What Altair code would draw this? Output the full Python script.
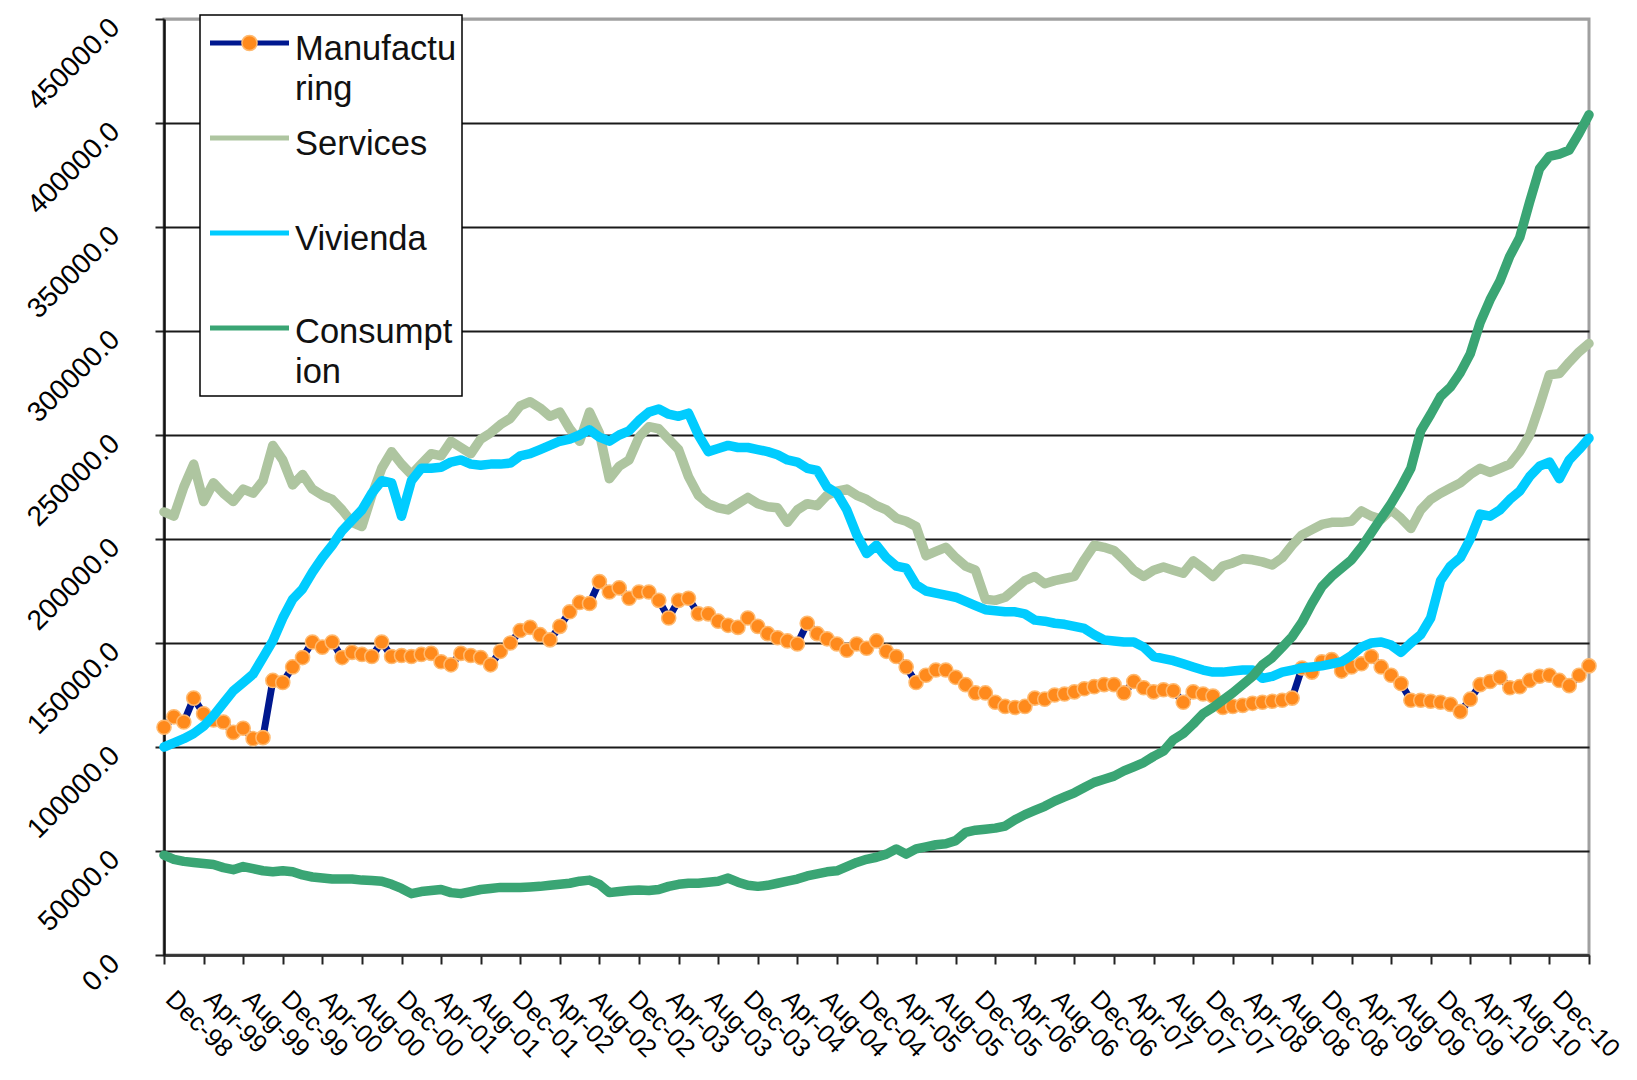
import altair as alt
import pandas as pd

# ---------------- data ----------------
tick_labels = ["Dec-98", "Apr-99", "Aug-99", "Dec-99", "Apr-00", "Aug-00", "Dec-00",
               "Apr-01", "Aug-01", "Dec-01", "Apr-02", "Aug-02", "Dec-02", "Apr-03",
               "Aug-03", "Dec-03", "Apr-04", "Aug-04", "Dec-04", "Apr-05", "Aug-05",
               "Dec-05", "Apr-06", "Aug-06", "Dec-06", "Apr-07", "Aug-07", "Dec-07",
               "Apr-08", "Aug-08", "Dec-08", "Apr-09", "Aug-09", "Dec-09", "Apr-10",
               "Aug-10", "Dec-10"]

series_names = ["Manufacturing", "Services", "Vivienda", "Consumption"]
legend_labels = ["Manufactu\nring", "Services", "Vivienda", "Consumpt\nion"]

# monthly values, Dec-98 ... Dec-10 (rows of 12 months)
manufacturing = [
    109500, 114500, 112000, 123500, 116000, 113000, 112000, 107000, 109000, 104000, 104500, 132000,
    131000, 138500, 143000, 150500, 148000, 150500, 143000, 145500, 144500, 143500, 150500, 143500,
    144000, 143500, 144500, 145000, 141000, 139500, 145000, 144000, 143000, 139500, 146000, 150000,
    156000, 157500, 154000, 151500, 158000, 165000, 169500, 169000, 179500, 174500, 176500, 171500,
    174500, 174500, 170500, 162000, 170500, 171500, 164000, 164000, 160500, 158500, 157500, 162000,
    158000, 154500, 152500, 151000, 149500, 159500, 154500, 152000, 149500, 146500, 149500, 147500,
    151000, 146000, 143500, 138500, 131000, 134500, 137000, 137000, 133500, 130000, 126000, 126000,
    121500, 119500, 119000, 119500, 123500, 123000, 125000, 125500, 126500, 128000, 129000, 130000,
    130000, 126000, 131500, 128500, 126500, 127500, 127000, 121500, 126500, 125500, 124500, 119000,
    119500, 120000, 121000, 121500, 122000, 122500, 123500, 138000, 136000, 141000, 142000, 136500,
    138500, 140000, 143500, 138500, 134500, 130500, 122500, 122500, 122000, 121500, 120500, 117000,
    123000, 130000, 131500, 133500, 128500, 129000, 132000, 134000, 134500, 132000, 129500, 134500,
    139000]

services = [
    213000, 211000, 225000, 236000, 218000, 227000, 222000, 218000, 224000, 222000, 228000, 245000,
    238000, 226000, 231000, 224000, 221000, 219000, 214000, 208000, 206000, 221000, 234000, 242000,
    236000, 231000, 236000, 241000, 240000, 247000, 244000, 241000, 248000, 251000, 255000, 258000,
    264000, 266000, 263000, 259000, 261000, 253000, 247000, 261000, 251000, 229000, 235000, 238000,
    249000, 254000, 253000, 248000, 243000, 230000, 221000, 217000, 215000, 214000, 217000, 220000,
    217000, 215500, 215000, 208000, 214000, 217000, 216000, 221000, 223000, 224000, 221000, 219000,
    216000, 214000, 210000, 208500, 206000, 192000, 194000, 196000, 191000, 187000, 185000, 171000,
    170500, 172000, 176000, 180000, 182000, 178500, 180000, 181000, 182000, 190000, 197000, 196000,
    194500, 190000, 185000, 182000, 185000, 186500, 185000, 183500, 189500, 186000, 182000, 187000,
    188500, 190500, 190000, 189000, 187500, 191000, 197000, 202000, 204500, 207000, 208000, 208000,
    208500, 213500, 211000, 209500, 214000, 210000, 205000, 214000, 219000, 222000, 224500, 227000,
    231000, 234000, 232000, 234000, 236000, 242000, 250000, 264000, 279000, 279500, 285000, 290000,
    294000]

vivienda = [
    100000, 102000, 104000, 106500, 110000, 115000, 121000, 127000, 131000, 135000, 143000, 151000,
    162000, 171000, 176000, 184000, 191000, 197000, 204000, 209000, 214000, 222000, 228000, 227000,
    211000, 228000, 234000, 234000, 234500, 237000, 238000, 236000, 235500, 236000, 236000, 236500,
    240000, 241000, 243000, 245000, 247000, 248000, 250000, 252500, 249000, 247000, 250000, 252000,
    257000, 261000, 262500, 260000, 259000, 260500, 250000, 242000, 243500, 245000, 244000, 244000,
    243000, 242000, 240500, 238000, 237000, 234000, 233000, 225000, 222000, 214000, 202000, 193000,
    197000, 191000, 187000, 186000, 178000, 175000, 174000, 173000, 172000, 170000, 168000, 166000,
    165500, 165000, 165000, 164000, 161000, 160500, 159500, 159000, 158000, 157000, 154000, 151500,
    151000, 150500, 150500, 148000, 143500, 142500, 141500, 140000, 138500, 137000, 136000, 136000,
    136500, 137000, 137000, 133000, 134000, 136000, 137000, 138000, 138500, 139000, 140000, 141000,
    144000, 148000, 150000, 150500, 149000, 145500, 150000, 154000, 162000, 180000, 187000, 191000,
    200000, 212000, 211000, 214000, 219000, 223000, 230000, 235000, 237000, 229000, 238000, 243000,
    248500]

consumption = [
    48000, 46000, 45000, 44500, 44000, 43500, 42000, 41000, 42500, 41500, 40500, 40000,
    40500, 40000, 38500, 37500, 37000, 36500, 36500, 36500, 36000, 35800, 35500, 34000,
    32000, 29500, 30500, 31000, 31500, 30000, 29500, 30500, 31500, 32000, 32500, 32500,
    32500, 32700, 33000, 33500, 34000, 34500, 35500, 36000, 34000, 30000, 30500, 31000,
    31200, 31000, 31500, 33000, 34000, 34500, 34500, 35000, 35500, 37000, 35000, 33500,
    33000, 33500, 34500, 35500, 36500, 38000, 39000, 40000, 40500, 42500, 44500, 46000,
    47000, 48500, 51000, 48500, 51000, 52000, 53000, 53500, 55000, 59000, 60000, 60500,
    61000, 62000, 65000, 67500, 69500, 71500, 74000, 76000, 78000, 80500, 83000, 84500,
    86000, 88500, 90500, 92500, 95500, 98000, 103500, 106500, 111000, 116000, 119000, 122500,
    126000, 130000, 134000, 139500, 143000, 148000, 153000, 160000, 169000, 177000, 182000, 186000,
    190000, 196000, 203000, 210000, 217000, 225000, 234000, 252000, 260000, 268500, 273000, 280000,
    289000, 304000, 315000, 324000, 336000, 345000, 362000, 378000, 384000, 385000, 387000, 395000,
    404000]

for s in (manufacturing, services, vivienda, consumption):
    if len(s) != 145:
        raise ValueError("series length %d" % len(s))

# ---------------- styling ----------------
FONT = "Liberation Sans"
W, H = 1425, 936
colors = {"Manufacturing": "#00188F", "Services": "#AEC5A0",
          "Vivienda": "#00CCFF", "Consumption": "#3AA574"}
ORANGE = "#FF8A1C"
ORANGE_EDGE = "#FFBA70"

rows = []
for name, vals in zip(series_names, (manufacturing, services, vivienda, consumption)):
    for i, v in enumerate(vals):
        rows.append({"m": i, "series": name, "value": v})
df = pd.DataFrame(rows)

x_enc = alt.X("m:Q",
              scale=alt.Scale(domain=[0, 144], nice=False, zero=False),
              axis=alt.Axis(values=list(range(0, 145, 4)), labels=False, title=None,
                            grid=False, ticks=True, tickSize=9, tickWidth=2,
                            tickColor="#222222", domainColor="#333333", domainWidth=2.5))
y_enc = alt.Y("value:Q",
              scale=alt.Scale(domain=[0, 450000], nice=False),
              axis=alt.Axis(values=list(range(0, 450001, 50000)), format=".1f",
                            title=None, labelAngle=315, labelAlign="right",
                            labelBaseline="middle", labelFont=FONT, labelFontSize=28,
                            labelColor="#000000", labelPadding=40, labelOffset=4,
                            labelOverlap=False,
                            tickSize=9, tickWidth=2, tickColor="#222222",
                            domainColor="#111111", domainWidth=2.5,
                            grid=True, gridWidth=2,
                            gridColor=alt.condition("datum.value >= 450000",
                                                    alt.value("#A0A0A0"),
                                                    alt.value("#1A1A1A"))))

base = alt.Chart(df)

def series_line(name, width):
    return base.transform_filter(alt.datum.series == name).mark_line(
        color=colors[name], strokeWidth=width, strokeJoin="round", strokeCap="round"
    ).encode(x=x_enc, y=y_enc)

manu_line = series_line("Manufacturing", 7)
manu_pts = base.transform_filter(alt.datum.series == "Manufacturing").mark_circle(
    size=200, fill=ORANGE, stroke=ORANGE_EDGE, strokeWidth=1.5, opacity=1
).encode(x=x_enc, y=y_enc)
serv_line = series_line("Services", 9.5)
viv_line = series_line("Vivienda", 9.5)
cons_line = series_line("Consumption", 9.5)

# legend (drawn inside the plot, over the gridlines)
one = pd.DataFrame({"k": [0]})
legend_layers = [alt.Chart(one).mark_rect(fill="white", stroke="#000000", strokeWidth=1.5).encode(
    x=alt.value(36), x2=alt.value(298), y=alt.value(-4), y2=alt.value(377))]
sym_y = [24, 119, 214, 309]
txt_y = [41, 136, 231, 324]
for name, lab, sy, ty in zip(series_names, legend_labels, sym_y, txt_y):
    legend_layers.append(
        alt.Chart(one).mark_rule(color=colors[name], strokeWidth=5).encode(
            x=alt.value(46), x2=alt.value(125), y=alt.value(sy)))
    if name == "Manufacturing":
        legend_layers.append(
            alt.Chart(one).mark_circle(size=230, fill=ORANGE, stroke=ORANGE_EDGE,
                                       strokeWidth=1.5, opacity=1).encode(
                x=alt.value(85.5), y=alt.value(sy)))
    legend_layers.append(
        alt.Chart(pd.DataFrame({"t": [lab]})).mark_text(
            align="left", baseline="alphabetic", font=FONT, fontSize=34.5,
            lineBreak="\n", lineHeight=40, color="#111111").encode(
            x=alt.value(131), y=alt.value(ty), text="t:N"))

data_layers = alt.layer(manu_line, manu_pts, serv_line, viv_line, cons_line, *legend_layers)

# x tick labels (label row slightly compressed relative to the ticks, as in the original)
lab_df = pd.DataFrame({"pos": list(range(0, 145, 4)), "label": tick_labels})
x_labels = alt.Chart(lab_df).mark_text(
    angle=45, align="left", baseline="middle", font=FONT, fontSize=25.5, color="#000000"
).encode(
    x=alt.X("pos:Q", scale=alt.Scale(domain=[0, 144], range=[6, 1393], nice=False, zero=False),
            axis=None),
    y=alt.value(976),
    text="label:N")

chart = alt.layer(data_layers, x_labels).resolve_scale(x="independent").properties(
    width=W, height=H,
    padding={"left": 156, "top": 11, "right": 40, "bottom": 112},
    autosize=alt.AutoSizeParams(type="none"),
    background="white",
).configure_view(stroke="#A0A0A0", strokeWidth=3)

chart.save("out.html", embed_options={"renderer": "svg", "actions": False})
